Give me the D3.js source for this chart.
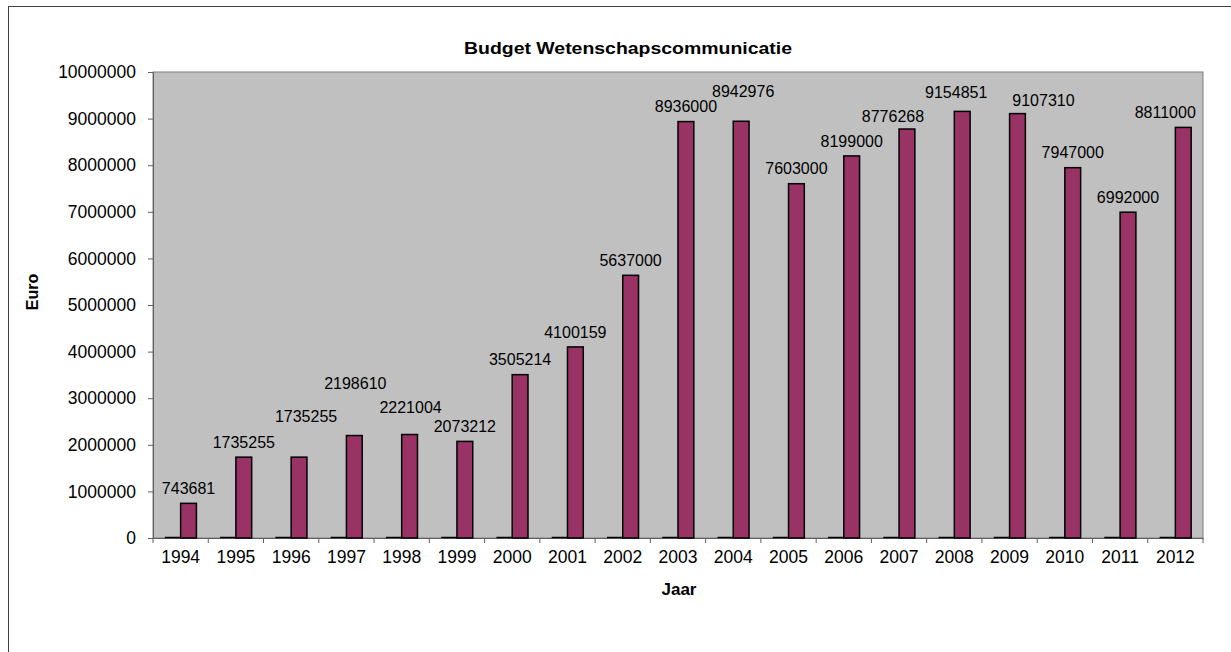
<!DOCTYPE html>
<html>
<head>
<meta charset="utf-8">
<script src="https://cdn.jsdelivr.net/npm/d3@7"></script>
<style>
  html, body { margin: 0; padding: 0; background: #fff; }
  svg { display: block; font-family: "Liberation Sans", Arial, sans-serif; }
</style>
</head>
<body>
<svg id="chart" width="1231" height="652"></svg>
<script>
// ---- data ----
const years = ["1994","1995","1996","1997","1998","1999","2000","2001","2002","2003","2004","2005","2006","2007","2008","2009","2010","2011","2012"];
const emptySeries = [0,0,0,0,0,0,0,0,0,0,0,0,0,0,0,0,0,0,0];
const budget = [743681,1735255,1735255,2198610,2221004,2073212,3505214,4100159,5637000,8936000,8942976,7603000,8199000,8776268,9154851,9107310,7947000,6992000,8811000];
const yTicks = [0,1000000,2000000,3000000,4000000,5000000,6000000,7000000,8000000,9000000,10000000];
const titleText = "Budget Wetenschapscommunicatie";
const yTitle = "Euro";
const xTitle = "Jaar";
// manual label nudges (px) as placed in the original chart
const labelDx = [0,0,7,1,1,0,0,0,0,0,2,0,0,-14,-6,26,0,0,-18];
const labelDy = [0,0,26,37,12,0,0,0,0,0,15,0,0,-2,4,-2,0,0,0];

// ---- layout ----
const svg = d3.select("#chart");
const plot = { left: 153, right: 1203, top: 72, bottom: 538 };

// outer frame (only left and top edges are visible in the crop)
svg.append("line").attr("x1", 8.5).attr("x2", 8.5).attr("y1", 6).attr("y2", 652).attr("stroke", "#404040").attr("stroke-width", 1);
svg.append("line").attr("x1", 8).attr("x2", 1231).attr("y1", 6.5).attr("y2", 6.5).attr("stroke", "#404040").attr("stroke-width", 1);

const x = d3.scaleBand().domain(years).range([plot.left, plot.right]).paddingInner(0).paddingOuter(0);
const y = d3.scaleLinear().domain([0, 10000000]).range([plot.bottom, plot.top]);
const step = x.bandwidth();
const barW = step / 3.5; // gap width 150%

// plot area
svg.append("rect")
  .attr("x", plot.left).attr("y", plot.top)
  .attr("width", plot.right - plot.left).attr("height", plot.bottom - plot.top)
  .attr("fill", "#c0c0c0").attr("stroke", "#808080").attr("stroke-width", 1);

// title
svg.append("text").attr("x", 628).attr("y", 54).attr("text-anchor", "middle")
  .attr("font-size", "17px").attr("font-weight", "bold").attr("fill", "#000")
  .attr("textLength", 328).attr("lengthAdjust", "spacingAndGlyphs").text(titleText);

// y axis
const yAxis = d3.axisLeft(y).tickValues(yTicks).tickSize(5).tickPadding(12).tickFormat(d3.format("d"));
const gy = svg.append("g").attr("transform", `translate(${plot.left},0)`).call(yAxis);
gy.select(".domain").attr("stroke", "#606060");
gy.selectAll(".tick line").attr("stroke", "#606060");
gy.selectAll(".tick text").attr("font-size", "17.5px").attr("fill", "#000").attr("font-family", "Liberation Sans, Arial, sans-serif");

// x axis
const xAxis = d3.axisBottom(x).tickSize(0).tickPadding(0);
const gx = svg.append("g").attr("transform", `translate(0,${plot.bottom})`).call(xAxis);
gx.select(".domain").attr("stroke", "#606060");
gx.selectAll(".tick text").attr("font-size", "17.5px").attr("fill", "#000")
  .attr("font-family", "Liberation Sans, Arial, sans-serif").attr("dy", null).attr("y", 25);
// category boundary tick marks
const bounds = years.map(d => x(d)).concat([plot.right]);
svg.append("g").selectAll("line").data(bounds).join("line")
  .attr("x1", d => d).attr("x2", d => d)
  .attr("y1", plot.bottom).attr("y2", plot.bottom + 5)
  .attr("stroke", "#606060");

// empty (zero) series: flat bars at baseline
svg.append("g").selectAll("path").data(emptySeries).join("path")
  .attr("d", (d, i) => {
    const cx = x(years[i]) + step / 2;
    const h = y(0) - y(d);
    return `M${cx - barW},${y(0) - 0.5}h${barW}` + (h > 0 ? `v${-h}h${-barW}z` : "");
  })
  .attr("fill", "none").attr("stroke", "#000").attr("stroke-width", 1.5);

// budget bars
svg.append("g").selectAll("rect").data(budget).join("rect")
  .attr("x", (d, i) => x(years[i]) + step / 2)
  .attr("y", d => y(d))
  .attr("width", barW)
  .attr("height", d => y(0) - y(d))
  .attr("fill", "#993366").attr("stroke", "#000").attr("stroke-width", 1.5);

// data labels
svg.append("g").selectAll("text").data(budget).join("text")
  .attr("x", (d, i) => x(years[i]) + step / 2 + barW / 2 + labelDx[i])
  .attr("y", (d, i) => y(d) - 15 - labelDy[i])
  .attr("dy", "0.35em")
  .attr("text-anchor", "middle")
  .attr("font-size", "16px").attr("fill", "#000")
  .text(d => d3.format("d")(d));

// axis titles
svg.append("text").attr("transform", "translate(38,292) rotate(-90)").attr("text-anchor", "middle")
  .attr("font-size", "16px").attr("font-weight", "bold").attr("fill", "#000").text(yTitle);
svg.append("text").attr("x", 679).attr("y", 595).attr("text-anchor", "middle")
  .attr("font-size", "17px").attr("font-weight", "bold").attr("fill", "#000").text(xTitle);
</script>
</body>
</html>
